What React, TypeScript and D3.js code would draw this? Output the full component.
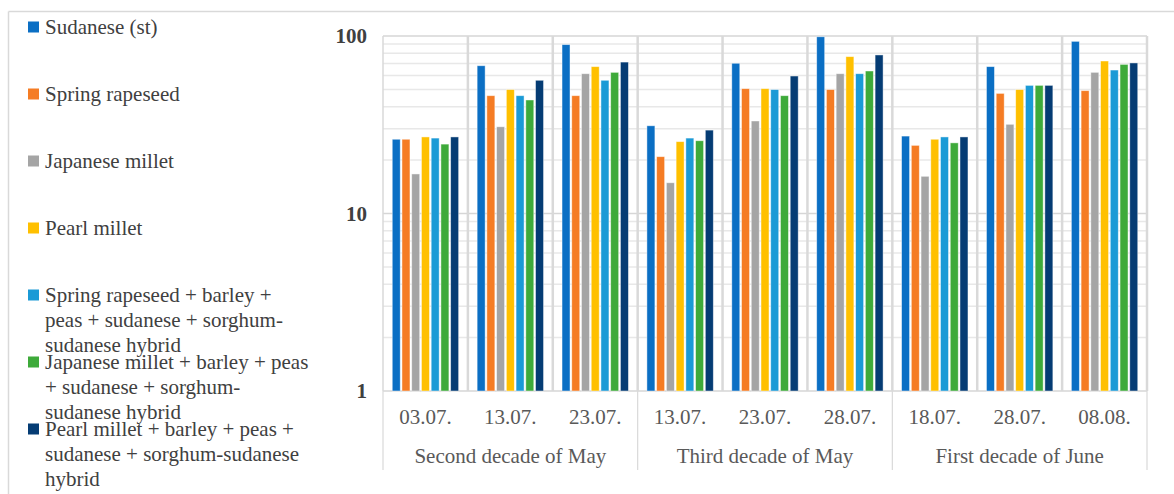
import React from 'react';
import * as d3 from 'd3';

// categories (two-level axis)
const dates = ['03.07.', '13.07.', '23.07.', '13.07.', '23.07.', '28.07.', '18.07.', '28.07.', '08.08.'];
const groups = ['Second decade of May', 'Third decade of May', 'First decade of June'];

const seriesNames = [
  ['Sudanese (st)'],
  ['Spring rapeseed'],
  ['Japanese millet'],
  ['Pearl millet'],
  ['Spring rapeseed + barley +', 'peas + sudanese + sorghum-', 'sudanese hybrid'],
  ['Japanese millet + barley + peas', '+ sudanese + sorghum-', 'sudanese hybrid'],
  ['Pearl millet + barley + peas +', 'sudanese + sorghum-sudanese', 'hybrid'],
];
const colors = ['#0B6FC4', '#F57C24', '#A5A5A5', '#FFC000', '#1B9AD6', '#3EAA3A', '#053C74'];

// one array per series, values per date
const sudanese = [26.2, 68, 89.4, 31.2, 70.2, 99, 27.3, 67.2, 93.3];
const rapeseed = [26.2, 46.1, 46.1, 20.9, 50.5, 49.9, 24.2, 47.5, 49.2];
const japMillet = [16.7, 30.8, 61.3, 14.9, 33.2, 61.3, 16.2, 31.8, 62.4];
const pearlMillet = [27, 49.9, 67.2, 25.4, 50.5, 76.5, 26.2, 49.9, 72.3];
const mixRapeseed = [26.6, 46.1, 56.3, 26.6, 49.9, 61.3, 27, 52.7, 64.3];
const mixJapMillet = [24.6, 43.6, 62.4, 25.7, 46.1, 63.5, 25, 52.7, 69.2];
const mixPearlMillet = [27, 56.3, 71.3, 29.5, 59.5, 78.2, 27, 52.7, 70.5];
const series = [sudanese, rapeseed, japMillet, pearlMillet, mixRapeseed, mixJapMillet, mixPearlMillet];

const yTicks = [1, 10, 100];

const W = 1174;
const H = 494;
const plot = { left: 383, right: 1147, top: 36, bottom: 391 };

const font = "'Liberation Serif', Tinos, 'Times New Roman', serif";

export default function App() {
  const x = d3.scaleBand<number>().domain(d3.range(dates.length)).range([plot.left, plot.right]).padding(0);
  const xs = d3.scaleBand<number>().domain(d3.range(series.length)).range([0, x.bandwidth()])
    .paddingInner(0.18).paddingOuter(0.95);
  const y = d3.scaleLog().domain([1, 100]).range([plot.bottom, plot.top]);

  const minor: number[] = [];
  [1, 10].forEach(d => { for (let k = 2; k <= 9; k++) minor.push(d * k); });

  const bw = x.bandwidth();
  const txt = { fontFamily: font, fontSize: '21px' };

  return (
    <svg width={W} height={H} style={{ position: 'absolute', left: 0, top: 0, background: '#fff' }}>
      {/* chart frame */}
      <line x1={8.5} y1={11.5} x2={W} y2={11.5} stroke="#d9d9d9" strokeWidth={1.5} />
      <line x1={8.5} y1={11.5} x2={8.5} y2={H} stroke="#d9d9d9" strokeWidth={1.5} />

      {/* gridlines */}
      {minor.map(v => (
        <line key={'m' + v} x1={plot.left} x2={plot.right} y1={y(v)} y2={y(v)} stroke="#e8e8e8" strokeWidth={1.5} />
      ))}
      {yTicks.map(v => (
        <line key={'M' + v} x1={plot.left} x2={plot.right} y1={y(v)} y2={y(v)} stroke="#d6d6d6" strokeWidth={1.5} />
      ))}
      {d3.range(dates.length + 1).map(i => {
        const xx = plot.left + i * bw;
        return (
          <line key={'v' + i} x1={xx} x2={xx} y1={plot.top} y2={plot.bottom} stroke="#d9d9d9"
            strokeWidth={i === 0 ? 1.5 : 2.5} />
        );
      })}

      {/* bars */}
      {series.map((vals, s) => (
        <g key={'s' + s} fill={colors[s]}>
          {vals.map((v, i) => (
            <rect key={i} x={(x(i) as number) + (xs(s) as number)} y={y(v)} width={xs.bandwidth()}
              height={plot.bottom - y(v)} stroke="#ffffff" strokeOpacity={0.55} strokeWidth={0.8} />
          ))}
        </g>
      ))}

      {/* category axis */}
      {d3.range(groups.length + 1).map(g => {
        const xx = plot.left + g * 3 * bw;
        return <line key={'g' + g} x1={xx} x2={xx} y1={plot.bottom} y2={470} stroke="#d9d9d9" strokeWidth={1.2} />;
      })}
      {dates.map((d, i) => (
        <text key={'d' + i} x={(x(i) as number) + bw / 2} y={424} textAnchor="middle" style={txt}
          fill="#595959">{d}</text>
      ))}
      {groups.map((g, i) => (
        <text key={'gl' + i} x={plot.left + (i * 3 + 1.5) * bw} y={463} textAnchor="middle" style={txt}
          fill="#595959">{g}</text>
      ))}

      {/* value axis */}
      {yTicks.map(v => (
        <text key={'yt' + v} x={367} y={y(v) + 7} textAnchor="end" style={{ ...txt, fontWeight: 'bold' }}
          fill="#404040">{d3.format('d')(v)}</text>
      ))}

      {/* legend */}
      {seriesNames.map((lines, i) => {
        const cy = 27 + i * 67;
        return (
          <g key={'l' + i}>
            <rect x={28} y={cy - 5.5} width={11} height={11} fill={colors[i]} />
            {lines.map((ln, j) => (
              <text key={j} x={45} y={cy + 7 + j * 25} style={txt} fill="#404040">{ln}</text>
            ))}
          </g>
        );
      })}
    </svg>
  );
}
